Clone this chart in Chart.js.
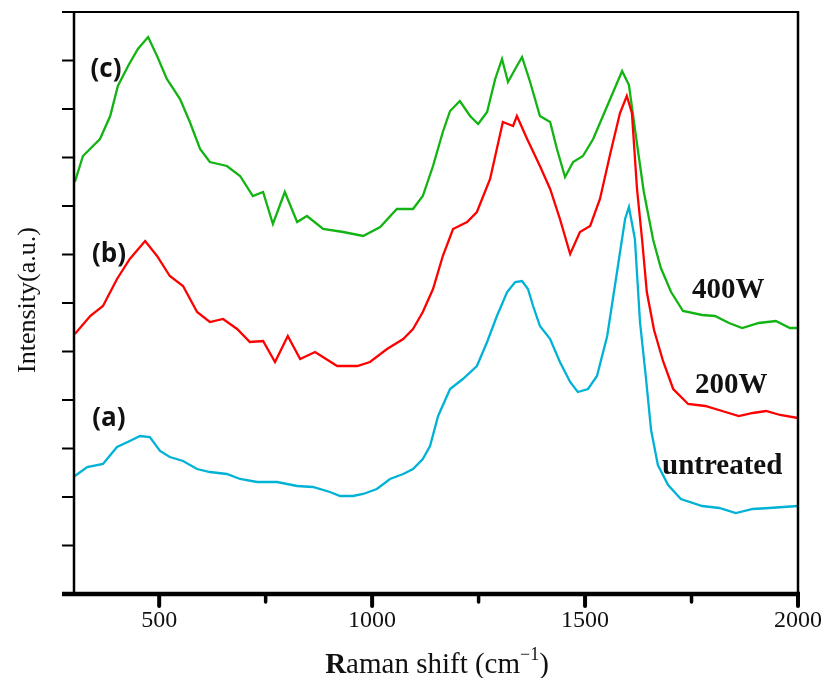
<!DOCTYPE html>
<html>
<head>
<meta charset="utf-8">
<script src="https://cdn.jsdelivr.net/npm/chart.js@4/dist/chart.umd.min.js"></script>
<style>
  html, body { margin: 0; padding: 0; background: #fff; }
  canvas { display: block; }
</style>
</head>
<body>
<canvas id="c" width="824" height="678"></canvas>
<script>
// ---- data (Raman shift in cm^-1, intensity in arbitrary units) ----
const xTicks = [500, 1000, 1500, 2000];
const xMinorTicks = [750, 1250, 1750];
const yTickCount = 12;

const greenX = [302,321,361,385,403,427,450,474,495,518,549,572,596,619,659,690,720,744,767,795,824,847,885,932,979,1019,1058,1096,1119,1143,1166,1183,1206,1230,1249,1270,1289,1305,1319,1336,1352,1371,1394,1418,1434,1453,1472,1495,1519,1552,1587,1603,1622,1638,1660,1678,1702,1730,1775,1805,1838,1869,1908,1948,1981,2000];
const greenY = [412,438,455,478,508,528,545,557,538,515,495,472,445,432,428,418,398,402,370,402,372,378,365,362,358,367,385,385,398,428,462,483,493,478,470,482,515,535,512,525,537,512,478,472,445,417,432,438,455,488,523,509,450,402,354,326,302,283,279,278,271,266,271,273,266,266];

const redX = [302,338,368,401,431,467,495,525,556,589,619,650,683,713,744,772,802,831,866,918,965,995,1035,1073,1096,1119,1143,1166,1190,1223,1246,1277,1307,1331,1340,1364,1394,1418,1441,1465,1488,1512,1535,1559,1582,1598,1610,1622,1634,1645,1662,1683,1707,1742,1782,1822,1861,1894,1925,1958,2000];
const redY = [260,278,288,315,335,353,338,318,308,282,272,275,265,252,253,232,258,235,242,228,228,232,245,255,265,282,305,338,365,372,382,415,472,468,478,455,428,405,375,340,362,368,395,440,481,498,481,405,354,302,264,233,205,190,188,183,178,181,183,179,176];

const cyanX = [302,331,368,401,431,455,478,502,525,556,589,619,659,690,730,777,824,861,901,925,955,979,1011,1042,1073,1096,1119,1136,1155,1183,1213,1246,1270,1293,1317,1336,1352,1366,1378,1394,1418,1441,1465,1483,1507,1528,1552,1575,1594,1603,1617,1629,1643,1655,1671,1695,1725,1775,1815,1854,1894,1932,2000];
const cyanY = [118,127,130,147,153,158,157,143,137,133,125,122,120,115,112,112,108,107,102,98,98,100,105,115,120,125,135,148,178,205,215,228,252,278,302,312,313,305,288,268,255,232,212,202,205,218,258,322,375,387,355,272,216,164,129,109,95,88,86,81,85,86,88];

const letterLabels = ['(c)', '(b)', '(a)'];
const letterX = [375, 382, 382];
const letterY = [524, 339, 175];
const seriesLabels = ['400W', '200W', 'untreated'];
const seriesLabelX = [1836, 1843, 1822];
const seriesLabelY = [303, 208, 127];

const Y_MAX = 582;

function pts(xs, ys) { return xs.map((x, i) => ({ x: x, y: ys[i] })); }

const decor = {
  id: 'decor',
  afterDraw(chart) {
    const ctx = chart.ctx;
    const a = chart.chartArea;
    const xs = chart.scales.x, ys = chart.scales.y;
    ctx.save();
    ctx.strokeStyle = '#000';
    ctx.lineCap = 'butt';
    // frame
    ctx.lineWidth = 2;
    ctx.beginPath(); ctx.moveTo(a.left, a.top); ctx.lineTo(a.right + 1, a.top); ctx.stroke();
    ctx.lineWidth = 2.5;
    ctx.beginPath(); ctx.moveTo(a.left, a.top - 1); ctx.lineTo(a.left, a.bottom); ctx.stroke();
    ctx.beginPath(); ctx.moveTo(a.right, a.top - 1); ctx.lineTo(a.right, a.bottom); ctx.stroke();
    ctx.lineWidth = 4.5;
    ctx.beginPath(); ctx.moveTo(a.left - 12, a.bottom); ctx.lineTo(a.right + 2, a.bottom); ctx.stroke();
    // y ticks
    ctx.lineWidth = 2;
    for (let k = 0; k <= yTickCount; k++) {
      const py = ys.getPixelForValue(k * Y_MAX / yTickCount);
      ctx.beginPath(); ctx.moveTo(a.left - 12, py); ctx.lineTo(a.left, py); ctx.stroke();
    }
    // x ticks
    ctx.lineCap = 'round';
    ctx.lineWidth = 4;
    xTicks.forEach(v => {
      const px = xs.getPixelForValue(v);
      ctx.beginPath(); ctx.moveTo(px, a.bottom); ctx.lineTo(px, a.bottom + 12); ctx.stroke();
    });
    ctx.lineWidth = 3.5;
    xMinorTicks.forEach(v => {
      const px = xs.getPixelForValue(v);
      ctx.beginPath(); ctx.moveTo(px, a.bottom); ctx.lineTo(px, a.bottom + 8); ctx.stroke();
    });
    // tick labels
    ctx.fillStyle = '#111';
    ctx.font = '24px "Liberation Serif"';
    ctx.textAlign = 'center';
    ctx.textBaseline = 'alphabetic';
    xTicks.forEach(v => {
      const px = xs.getPixelForValue(v);
      ctx.fillText(String(v), px, 627);
    });
    // x title: bold R + "aman shift (cm" + superscript "−1" + ")"
    const parts = [
      { t: 'R', f: 'bold 29px "Liberation Serif"', dy: 0 },
      { t: 'aman shift (cm', f: '29px "Liberation Serif"', dy: 0 },
      { t: '\u22121', f: '18px "Liberation Serif"', dy: -13 },
      { t: ')', f: '29px "Liberation Serif"', dy: 0 }
    ];
    let total = 0;
    parts.forEach(p => { ctx.font = p.f; p.w = ctx.measureText(p.t).width; total += p.w; });
    let cx = 437 - total / 2;
    ctx.textAlign = 'left';
    parts.forEach(p => { ctx.font = p.f; ctx.fillText(p.t, cx, 673 + p.dy); cx += p.w; });
    // y title
    ctx.save();
    ctx.translate(35, 300);
    ctx.rotate(-Math.PI / 2);
    ctx.textAlign = 'center';
    ctx.font = '26px "Liberation Serif"';
    ctx.fillText('Intensity(a.u.)', 0, 0);
    ctx.restore();
    // panel letters
    ctx.textAlign = 'center';
    ctx.textBaseline = 'middle';
    ctx.font = 'bold 26px "Open Sans"';
    letterLabels.forEach((t, i) => {
      ctx.fillText(t, xs.getPixelForValue(letterX[i]), ys.getPixelForValue(letterY[i]));
    });
    ctx.font = 'bold 29px "Liberation Serif"';
    seriesLabels.forEach((t, i) => {
      ctx.fillText(t, xs.getPixelForValue(seriesLabelX[i]), ys.getPixelForValue(seriesLabelY[i]));
    });
    ctx.restore();
  }
};

new Chart(document.getElementById('c'), {
  type: 'line',
  data: {
    datasets: [
      { label: 'untreated', data: pts(cyanX, cyanY), borderColor: '#00b2d6', borderWidth: 2.3 },
      { label: '200W', data: pts(redX, redY), borderColor: '#ff0000', borderWidth: 2.3 },
      { label: '400W', data: pts(greenX, greenY), borderColor: '#12b312', borderWidth: 2.3 }
    ]
  },
  options: {
    responsive: false,
    animation: false,
    devicePixelRatio: 1,
    layout: { padding: { left: 74, right: 26, top: 12, bottom: 84 } },
    elements: { point: { radius: 0 }, line: { tension: 0 } },
    plugins: { legend: { display: false }, tooltip: { enabled: false } },
    scales: {
      x: { type: 'linear', min: 300, max: 2000, display: false },
      y: { type: 'linear', min: 0, max: Y_MAX, display: false }
    }
  },
  plugins: [decor]
});
</script>
</body>
</html>
